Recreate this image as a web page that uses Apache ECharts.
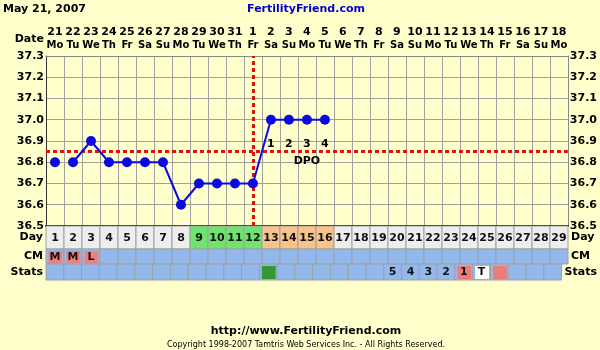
<!DOCTYPE html>
<html>
<head>
<meta charset="utf-8">
<script src="https://cdn.jsdelivr.net/npm/echarts@6/dist/echarts.min.js"></script>
<style>
html,body{margin:0;padding:0;background:#ffffcc;}
#chart{width:600px;height:350px;}
</style>
</head>
<body>
<div id="chart"></div>
<script>
// ---- data ----
const dates = ['21','22','23','24','25','26','27','28','29','30','31','1','2','3','4','5','6','7','8','9','10','11','12','13','14','15','16','17','18'];
const weekdays = ['Mo','Tu','We','Th','Fr','Sa','Su','Mo','Tu','We','Th','Fr','Sa','Su','Mo','Tu','We','Th','Fr','Sa','Su','Mo','Tu','We','Th','Fr','Sa','Su','Mo'];
const cycleDays = ['1','2','3','4','5','6','7','8','9','10','11','12','13','14','15','16','17','18','19','20','21','22','23','24','25','26','27','28','29'];
const temps = [36.8,36.8,36.9,36.8,36.8,36.8,36.8,36.6,36.7,36.7,36.7,36.7,37.0,37.0,37.0,37.0,null,null,null,null,null,null,null,null,null,null,null,null,null];
const unconnectedDays = [0];
const dayPhase = ['','','','','','','','','F','F','F','F','L','L','L','L','','','','','','','','','','','','',''];
const cervicalMucus = ['M','M','L','','','','','','','','','','','','','','','','','','','','','','','','','',''];
const statsText = ['','','','','','','','','','','','','','','','','','','','5','4','3','2','1','T','','','',''];
const statsMark = ['','','','','','','','','','','','','G','','','','','','','','','','','P','W','P','','',''];
const dpo = ['','','','','','','','','','','','','1','2','3','4','','','','','','','','','','','','',''];
const dpoCaptionIndex = 14;
const dpoCaption = 'DPO';
const coverline = 36.85;
const ovulationIndex = 11;
const tempMin = 36.5, tempMax = 37.3, tempStep = 0.1;

// ---- styles ----
const FONT = 'DejaVu Sans';
const phaseColor = {'': '#eeeeee', 'F': '#6ee46e', 'L': '#f8c48c'};
const markColor = {'G': '#339933', 'P': '#ee7b7b', 'W': '#ffffff'};
const rowBlue = '#93b9ec';
const gridGray = '#a0a0a0';

function cellSeries(axisX, axisY, bgFor, innerFor, textFor) {
  return {
    type: 'custom', xAxisIndex: axisX, yAxisIndex: axisY, silent: true,
    data: cycleDays.map((d, i) => [i, 0]),
    renderItem: function (params, api) {
      const i = api.value(0);
      const c = api.coord([i, 0]);
      const s = api.size([1, 1]);
      const x0 = c[0] - s[0] / 2, y0 = c[1] - s[1] / 2;
      const children = [{
        type: 'rect', shape: {x: x0, y: y0, width: s[0], height: s[1]},
        style: {fill: bgFor(i), stroke: gridGray, lineWidth: 1}
      }];
      const inner = innerFor(i);
      if (inner) {
        children.push({type: 'rect', shape: {x: x0 + 2.5, y: y0 + 2, width: s[0] - 4, height: s[1] - 3}, style: {fill: inner}});
      }
      const t = textFor(i);
      if (t) {
        children.push({type: 'text', style: {text: t, x: c[0], y: c[1] + 0.5, align: 'center', verticalAlign: 'middle', font: 'bold 11px "' + FONT + '"', fill: '#111'}});
      }
      return {type: 'group', children: children};
    }
  };
}

function labelAxis(name, gridIndex, pos) {
  return {type: 'category', gridIndex: gridIndex, position: pos, data: [name],
    axisLine: {show: false}, axisTick: {show: false}, splitLine: {show: false},
    axisLabel: {color: '#000', fontFamily: FONT, fontWeight: 'bold', fontSize: 11, margin: 3}};
}

const chart = echarts.init(document.getElementById('chart'));
const yLabel = {color: '#000', fontFamily: FONT, fontWeight: 'bold', fontSize: 11, margin: 2, formatter: v => Number(v).toFixed(1)};

chart.setOption({
  animation: false,
  backgroundColor: '#ffffcc',
  grid: [
    {left: 46, right: 32, top: 56, height: 170},
    {left: 46, right: 32, top: 226, height: 23},
    {left: 46, right: 32, top: 249, height: 15},
    {left: 46, right: 32, top: 264, height: 16}
  ],
  xAxis: [
    {type: 'category', gridIndex: 0, position: 'top', data: dates, boundaryGap: true,
     axisLine: {lineStyle: {color: '#888'}}, axisTick: {length: 3, lineStyle: {color: '#888'}},
     splitLine: {show: true, lineStyle: {color: gridGray, width: 1}},
     axisLabel: {interval: 0, margin: 4, color: '#000',
       formatter: (v, i) => '{d|' + v + '}\n{w|' + weekdays[i] + '}',
       rich: {d: {fontFamily: FONT, fontWeight: 'bold', fontSize: 11, lineHeight: 13, color: '#000'},
              w: {fontFamily: FONT, fontWeight: 'bold', fontSize: 10, lineHeight: 13, color: '#000'}}}},
    {type: 'category', gridIndex: 0, position: 'bottom', data: dates,
     axisLine: {lineStyle: {color: '#000', width: 2}}, axisTick: {show: false}, axisLabel: {show: false}},
    {type: 'category', gridIndex: 1, data: cycleDays, show: false},
    {type: 'category', gridIndex: 2, data: cycleDays, show: false},
    {type: 'category', gridIndex: 3, data: cycleDays, show: false}
  ],
  yAxis: [
    {type: 'value', gridIndex: 0, min: tempMin, max: tempMax, interval: tempStep, position: 'left',
     axisLine: {show: true, lineStyle: {color: '#333'}}, axisTick: {show: false},
     splitLine: {lineStyle: {color: gridGray, width: 1}}, axisLabel: yLabel},
    {type: 'value', gridIndex: 0, min: tempMin, max: tempMax, interval: tempStep, position: 'right',
     axisLine: {show: true, lineStyle: {color: '#888'}}, axisTick: {show: false},
     splitLine: {show: false}, axisLabel: yLabel},
    labelAxis('Day', 1, 'left'), labelAxis('Day', 1, 'right'),
    labelAxis('CM', 2, 'left'), labelAxis('CM', 2, 'right'),
    labelAxis('Stats', 3, 'left'), labelAxis('Stats', 3, 'right')
  ],
  graphic: [
    {type: 'text', left: 3, top: 4, style: {text: 'May 21, 2007', font: 'bold 11px "' + FONT + '"', fill: '#000'}},
    {type: 'text', x: 306, y: 4, style: {text: 'FertilityFriend.com', align: 'center', font: 'bold 11px "' + FONT + '"', fill: '#0000cc'}},
    {type: 'text', x: 44, y: 39, style: {text: 'Date', align: 'right', verticalAlign: 'middle', font: 'bold 11px "' + FONT + '"', fill: '#000'}},
    {type: 'text', x: 306, y: 331, style: {text: 'http://www.FertilityFriend.com', align: 'center', verticalAlign: 'middle', font: 'bold 11px "' + FONT + '"', fill: '#000'}},
    {type: 'text', x: 306, y: 345, style: {text: 'Copyright 1998-2007 Tamtris Web Services Inc. - All Rights Reserved.', align: 'center', verticalAlign: 'middle', font: '8px "' + FONT + '"', fill: '#000'}}
  ],
  series: [
    {type: 'line', xAxisIndex: 0, yAxisIndex: 0, z: 5,
     data: temps.map((v, i) => unconnectedDays.includes(i) ? null : v),
     symbol: 'circle', symbolSize: 10, connectNulls: false,
     lineStyle: {color: '#0a0ae0', width: 2}, itemStyle: {color: '#0a0ae0'},
     label: {show: true, position: 'bottom', distance: 11, color: '#000', fontFamily: FONT, fontWeight: 'bold', fontSize: 11, lineHeight: 17,
       formatter: p => dpo[p.dataIndex] + (p.dataIndex === dpoCaptionIndex ? '\n' + dpoCaption : '')},
     markLine: {symbol: 'none', silent: true, label: {show: false},
       lineStyle: {color: '#dd1111', width: 3, type: [4, 3]},
       data: [{yAxis: coverline}, {xAxis: ovulationIndex}]}},
    {type: 'line', xAxisIndex: 0, yAxisIndex: 0, z: 5,
     data: temps.map((v, i) => unconnectedDays.includes(i) ? v : null),
     symbol: 'circle', symbolSize: 10, showSymbol: true,
     lineStyle: {width: 0}, itemStyle: {color: '#0a0ae0'}},
    cellSeries(2, 2, i => phaseColor[dayPhase[i]], i => null, i => cycleDays[i]),
    cellSeries(3, 4, i => rowBlue, i => cervicalMucus[i] ? '#ee8080' : null, i => cervicalMucus[i]),
    cellSeries(4, 6, i => rowBlue, i => statsMark[i] ? markColor[statsMark[i]] : null, i => statsText[i])
  ]
});
</script>
</body>
</html>
